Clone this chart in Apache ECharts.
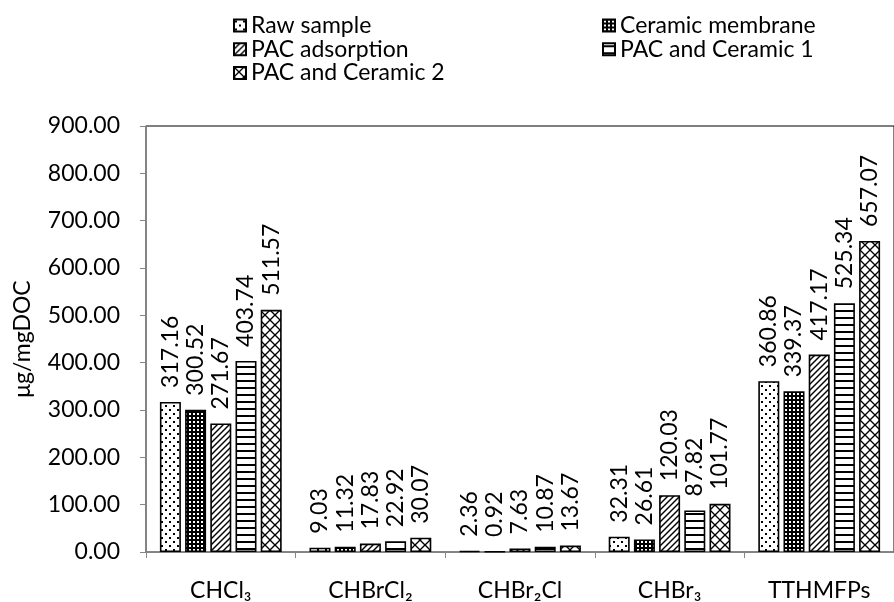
<!DOCTYPE html>
<html>
<head>
<meta charset="utf-8">
<script src="https://cdn.jsdelivr.net/npm/echarts@6/dist/echarts.min.js"></script>
<style>
  html, body { margin: 0; padding: 0; background: #fff; }
  #chart { width: 894px; height: 602px; }
</style>
</head>
<body>
<div id="chart"></div>
<script>
// Trihalomethane formation potential per treatment (µg/mgDOC)
const categories = ['CHCl₃', 'CHBrCl₂', 'CHBr₂Cl', 'CHBr₃', 'TTHMFPs'];
const seriesNames = ['Raw sample', 'Ceramic membrane', 'PAC adsorption', 'PAC and Ceramic 1', 'PAC and Ceramic 2'];
const rawSample       = [317.16, 9.03, 2.36, 32.31, 360.86];
const ceramicMembrane = [300.52, 11.32, 0.92, 26.61, 339.37];
const pacAdsorption   = [271.67, 17.83, 7.63, 120.03, 417.17];
const pacCeramic1     = [403.74, 22.92, 10.87, 87.82, 525.34];
const pacCeramic2     = [511.57, 30.07, 13.67, 101.77, 657.07];
const yMin = 0, yMax = 900, yStep = 100;

const FONT = "Lato, 'Noto Sans', sans-serif";
const FS = 23;

// Monochrome hatch fills painted on small repeating canvases
function tile(w, h, draw) {
  const c = document.createElement('canvas');
  c.width = w; c.height = h;
  const g = c.getContext('2d');
  g.fillStyle = '#fff';
  g.fillRect(0, 0, w, h);
  g.fillStyle = '#000';
  g.strokeStyle = '#000';
  draw(g, w, h);
  return { image: c, repeat: 'repeat' };
}
const dotted = tile(8, 8, g => { g.fillRect(1, 1, 2, 2); g.fillRect(5, 5, 2, 2); });
const smallGrid = tile(4, 4, g => { g.fillRect(0, 0, 4, 4); g.fillStyle = '#fff'; g.fillRect(1, 1, 2, 2); });
const upDiagonal = tile(6, 6, (g, w, h) => {
  g.lineWidth = 1.4;
  for (let k = -1; k <= 1; k++) {
    g.beginPath(); g.moveTo(-1 + k * w, h + 1); g.lineTo(w + 1 + k * w, -1); g.stroke();
  }
});
const horizontal = tile(7, 7, g => { g.fillRect(0, 2, 7, 2); });
const crossHatch = tile(10, 10, (g, w, h) => {
  g.lineWidth = 1.3;
  for (let k = -1; k <= 1; k++) {
    g.beginPath(); g.moveTo(-1, -1 + k * h); g.lineTo(w + 1, h + 1 + k * h); g.stroke();
    g.beginPath(); g.moveTo(-1, h + 1 + k * h); g.lineTo(w + 1, -1 + k * h); g.stroke();
  }
});

const fills = [dotted, smallGrid, upDiagonal, horizontal, crossHatch];
const values = [rawSample, ceramicMembrane, pacAdsorption, pacCeramic1, pacCeramic2];

const series = seriesNames.map((name, i) => ({
  name,
  type: 'bar',
  data: values[i],
  barWidth: 21,
  barGap: '20%',
  itemStyle: { color: fills[i], borderColor: '#000', borderWidth: 1.6 },
  label: {
    show: true,
    position: 'top',
    rotate: 90,
    align: 'left',
    verticalAlign: 'middle',
    distance: 14,
    fontFamily: FONT,
    fontSize: FS,
    color: '#000',
    formatter: p => p.value.toFixed(2)
  }
}));

const legendText = { fontFamily: FONT, fontSize: FS, color: '#000', lineHeight: 21 };
const legendCommon = {
  orient: 'vertical', top: 9,
  icon: 'rect', itemWidth: 12, itemHeight: 12, itemGap: 0.7,
  selectedMode: false, textStyle: legendText
};

const chart = echarts.init(document.getElementById('chart'), null, { renderer: 'canvas' });
chart.setOption({
  animation: false,
  backgroundColor: '#fff',
  legend: [
    Object.assign({ data: [seriesNames[0], seriesNames[2], seriesNames[4]], left: 228 }, legendCommon),
    Object.assign({ data: [seriesNames[1], seriesNames[3]], left: 597 }, legendCommon)
  ],
  grid: {
    left: 146, right: -12, top: 126, bottom: 49,
    show: true, borderColor: '#000', borderWidth: 1, backgroundColor: 'transparent'
  },
  xAxis: {
    type: 'category',
    data: categories,
    axisLine: { lineStyle: { color: '#868686', width: 1.5 } },
    axisTick: { show: true, length: 6, alignWithLabel: false, lineStyle: { color: '#868686' } },
    axisLabel: { fontFamily: FONT, fontSize: FS, color: '#000', margin: 27 }
  },
  yAxis: {
    type: 'value',
    min: yMin, max: yMax, interval: yStep,
    name: 'μg/mgDOC',
    nameLocation: 'middle',
    nameGap: 112,
    nameTextStyle: { fontFamily: FONT, fontSize: FS, color: '#000' },
    axisLine: { show: true, lineStyle: { color: '#868686', width: 1.5 } },
    axisTick: { show: true, length: 6, lineStyle: { color: '#868686' } },
    splitLine: { show: false },
    axisLabel: { fontFamily: FONT, fontSize: FS, color: '#000', margin: 26, formatter: v => v.toFixed(2) }
  },
  series
});
</script>
</body>
</html>
